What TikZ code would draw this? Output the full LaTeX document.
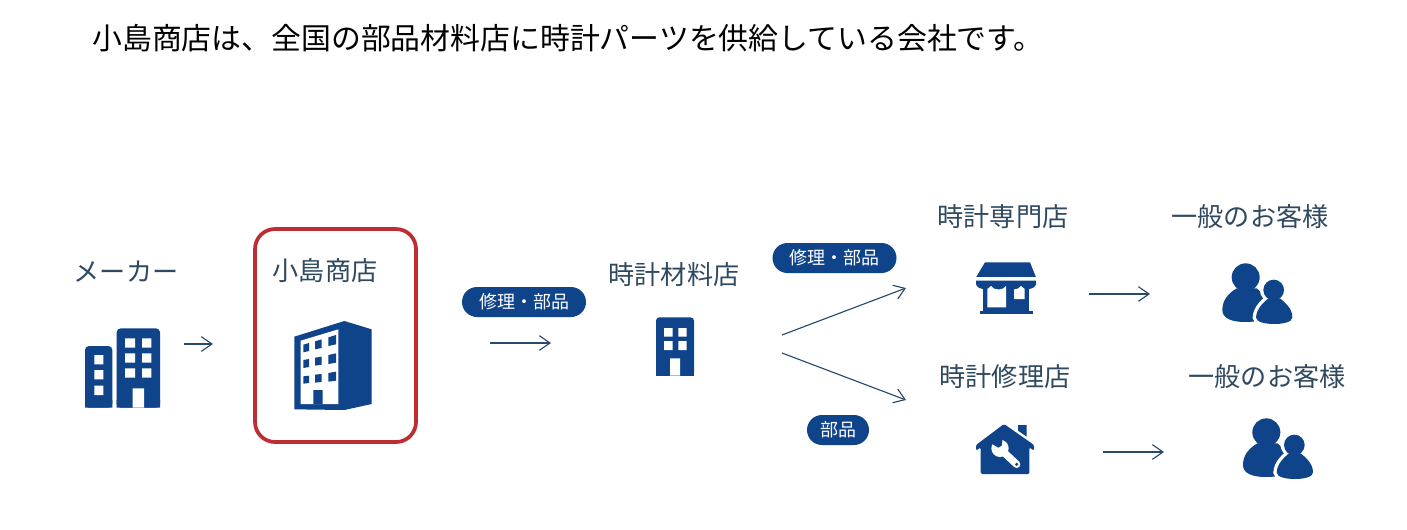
\documentclass[tikz,border=0pt]{standalone}
\usepackage{fontspec}
\setmainfont{Noto Sans CJK JP}
\usetikzlibrary{arrows.meta,shapes.misc}
\definecolor{iconblue}{HTML}{0F438A}
\definecolor{boxred}{HTML}{BF2C34}
\definecolor{labelink}{HTML}{2F4A60}
\definecolor{arrowink}{HTML}{2A4A6C}
\tikzset{
  lbl/.style={text=labelink,font=\fontsize{19.6pt}{22pt}\selectfont,inner sep=0pt},
  pill/.style={rounded rectangle,fill=iconblue,text=white,inner sep=0pt,minimum height=22.5pt,font=\fontsize{13.5pt}{15pt}\selectfont},
  flow/.style={draw=arrowink,line width=0.85pt,-{Straight Barb[length=8pt,width=11pt]}},
  zoomunits/.style={x=.25pt,y=-.25pt},
  people/.pic={
    \fill[iconblue] (947,262) circle[radius=42];
    \fill[iconblue] (877,360) .. controls (877,330) and (895,310) .. (920,295) -- (980,295) .. controls (1000,310) and (1015,340) .. (1015,370) .. controls (1015,388) and (985,396) .. (945,396) .. controls (905,396) and (877,385) .. (877,360) -- cycle;
    \fill[white] (1030,300) circle[radius=40];
    \filldraw[fill=iconblue,draw=white,line width=5pt] (978,382) .. controls (980,355) and (1000,338) .. (1015,325) -- (1050,325) .. controls (1065,338) and (1087,355) .. (1087,382) .. controls (1087,396) and (1060,402) .. (1033,402) .. controls (1005,402) and (978,396) .. (978,382) -- cycle;
    \fill[iconblue] (978,382) .. controls (980,355) and (1000,338) .. (1015,325) -- (1050,325) .. controls (1065,338) and (1087,355) .. (1087,382) .. controls (1087,396) and (1060,402) .. (1033,402) .. controls (1005,402) and (978,396) .. (978,382) -- cycle;
    \fill[iconblue] (1031,300) circle[radius=31];
  }
}
\begin{document}
\begin{tikzpicture}[x=.75pt,y=-.75pt]
\useasboundingbox (0,0) rectangle (1407,529);
\fill[white] (0,0) rectangle (1407,529);

% title
\node[anchor=west,inner sep=0pt,text=black,font=\fontsize{22.4pt}{25pt}\selectfont] (title) at (92,38) {小島商店は、全国の部品材料店に時計パーツを供給している会社です。};

% labels
\node[lbl] (maker) at (126,272) {メーカー};
\node[lbl] (kojima) at (325,271) {小島商店};
\node[lbl] (zairyo) at (674,275) {時計材料店};
\node[lbl] (senmon) at (1003,217) {時計専門店};
\node[lbl] (shuri) at (1005,377) {時計修理店};
\node[lbl] (kyaku1) at (1250,217) {一般のお客様};
\node[lbl] (kyaku2) at (1267,377) {一般のお客様};

% highlight box
\draw[boxred,line width=2.8pt,rounded corners=15pt] (255,229) rectangle (416,442);

% pills
\node[pill,minimum width=93pt] (pillA) at (524,302) {修理・部品};
\node[pill,minimum width=93pt] (pillB) at (834.5,258) {修理・部品};
\node[pill,minimum width=46.5pt] (pillC) at (838,430) {部品};

% arrow end points
\coordinate (a1s) at (184,344); \coordinate (a1e) at (213,344);
\coordinate (a2s) at (490,343); \coordinate (a2e) at (551,343);
\coordinate (a3s) at (782,335); \coordinate (a3e) at (906,288);
\coordinate (a4s) at (782,353); \coordinate (a4e) at (906,400);
\coordinate (a5s) at (1089,294); \coordinate (a5e) at (1150,294);
\coordinate (a6s) at (1103,452); \coordinate (a6e) at (1164,452);
\draw[flow] (a1s) -- (a1e);
\draw[flow] (a2s) -- (a2e);
\draw[flow] (a3s) -- (a3e);
\draw[flow] (a4s) -- (a4e);
\draw[flow] (a5s) -- (a5e);
\draw[flow] (a6s) -- (a6e);

% maker + big building
\begin{scope}[shift={(60,220)},zoomunits]
  \fill[iconblue,rounded corners=3pt] (75,563) -- (75,378) -- (157,378) -- (157,563) -- cycle;
  \fill[iconblue,rounded corners=3pt] (170,563) -- (170,325) -- (300,325) -- (300,563) -- cycle;
  \fill[iconblue] (75,540) rectangle (157,563) (170,540) rectangle (300,563);
  \fill[white] (103,405) rectangle (130,433) (103,450) rectangle (130,478) (103,497) rectangle (130,525);
  \fill[white] (195,355) rectangle (225,383) (246,355) rectangle (274,383)
               (195,400) rectangle (225,428) (246,400) rectangle (274,428)
               (195,445) rectangle (225,473) (246,445) rectangle (274,473)
               (218,505) rectangle (252,563);
  \fill[iconblue] (703,350) -- (853,303) -- (935,328) -- (935,552) -- (853,570) -- (703,568) -- cycle;
  \fill[white] (722,362) -- (835,328) -- (835,552) -- (722,552) -- cycle;
  \fill[iconblue] (730,374) -- (747,369) -- (747,393) -- (730,397) -- cycle
                  (765,364) -- (785,358) -- (785,384) -- (765,388) -- cycle
                  (805,352) -- (828,345) -- (828,373) -- (805,378) -- cycle
                  (730,420) -- (747,417) -- (747,441) -- (730,444) -- cycle
                  (765,413) -- (785,410) -- (785,434) -- (765,437) -- cycle
                  (805,405) -- (828,400) -- (828,428) -- (805,432) -- cycle
                  (730,469) -- (747,467) -- (747,489) -- (730,491) -- cycle
                  (765,464) -- (785,462) -- (785,486) -- (765,488) -- cycle
                  (805,459) -- (828,455) -- (828,482) -- (805,485) -- cycle
                  (760,510) rectangle (788,552);
\end{scope}

% small building
\begin{scope}[shift={(450,230)},zoomunits]
  \fill[iconblue,rounded corners=2.5pt] (618,437) -- (618,262) -- (732,262) -- (732,437) -- cycle;
  \fill[iconblue] (618,420) rectangle (732,437);
  \fill[white] (642,294) rectangle (668,320) (685,294) rectangle (710,320)
               (642,333) rectangle (668,360) (685,333) rectangle (710,360)
               (660,385) rectangle (690,437);
\end{scope}

% store, house, people
\begin{scope}[shift={(930,190)},zoomunits]
  % store
  \fill[iconblue] (160,285) rectangle (296,365);
  \fill[iconblue] (150,362) rectangle (308,373);
  \fill[white] (172,280) rectangle (228,352) (252,280) rectangle (284,327);
  \fill[iconblue] (165,217) -- (300,217) -- (318,262) -- (138,262) -- cycle;
  \fill[white] (138,262) rectangle (318,272);
  \fill[iconblue] (138,272) -- (318,272) -- (318,283)
     .. controls (310,302) and (281,302) .. (273,287)
     .. controls (265,302) and (236,302) .. (228,287)
     .. controls (220,302) and (191,302) .. (183,287)
     .. controls (175,302) and (146,302) .. (138,283) -- cycle;
  % house
  \fill[iconblue] (264,705) -- (290,705) -- (290,740) -- (264,722) -- cycle;
  \fill[iconblue,rounded corners=1pt] (222,702) -- (312,765) -- (312,782) -- (298,772) -- (298,852) -- (152,852) -- (152,772) -- (138,782) -- (138,765) -- cycle;
  \draw[white,line width=5.5pt,line cap=round] (212,778) -- (260,823);
  \fill[white] (210,775) circle[radius=26];
  \fill[iconblue] (188,763) -- (205,773) -- (215,767) -- (218,746) -- (195,738) -- (175,750) -- cycle;
  \fill[iconblue] (260,823) circle[radius=5];
  % people
  \pic at (0,0) {people};
  \pic at (62,465) {people};
\end{scope}
\end{tikzpicture}
\end{document}
